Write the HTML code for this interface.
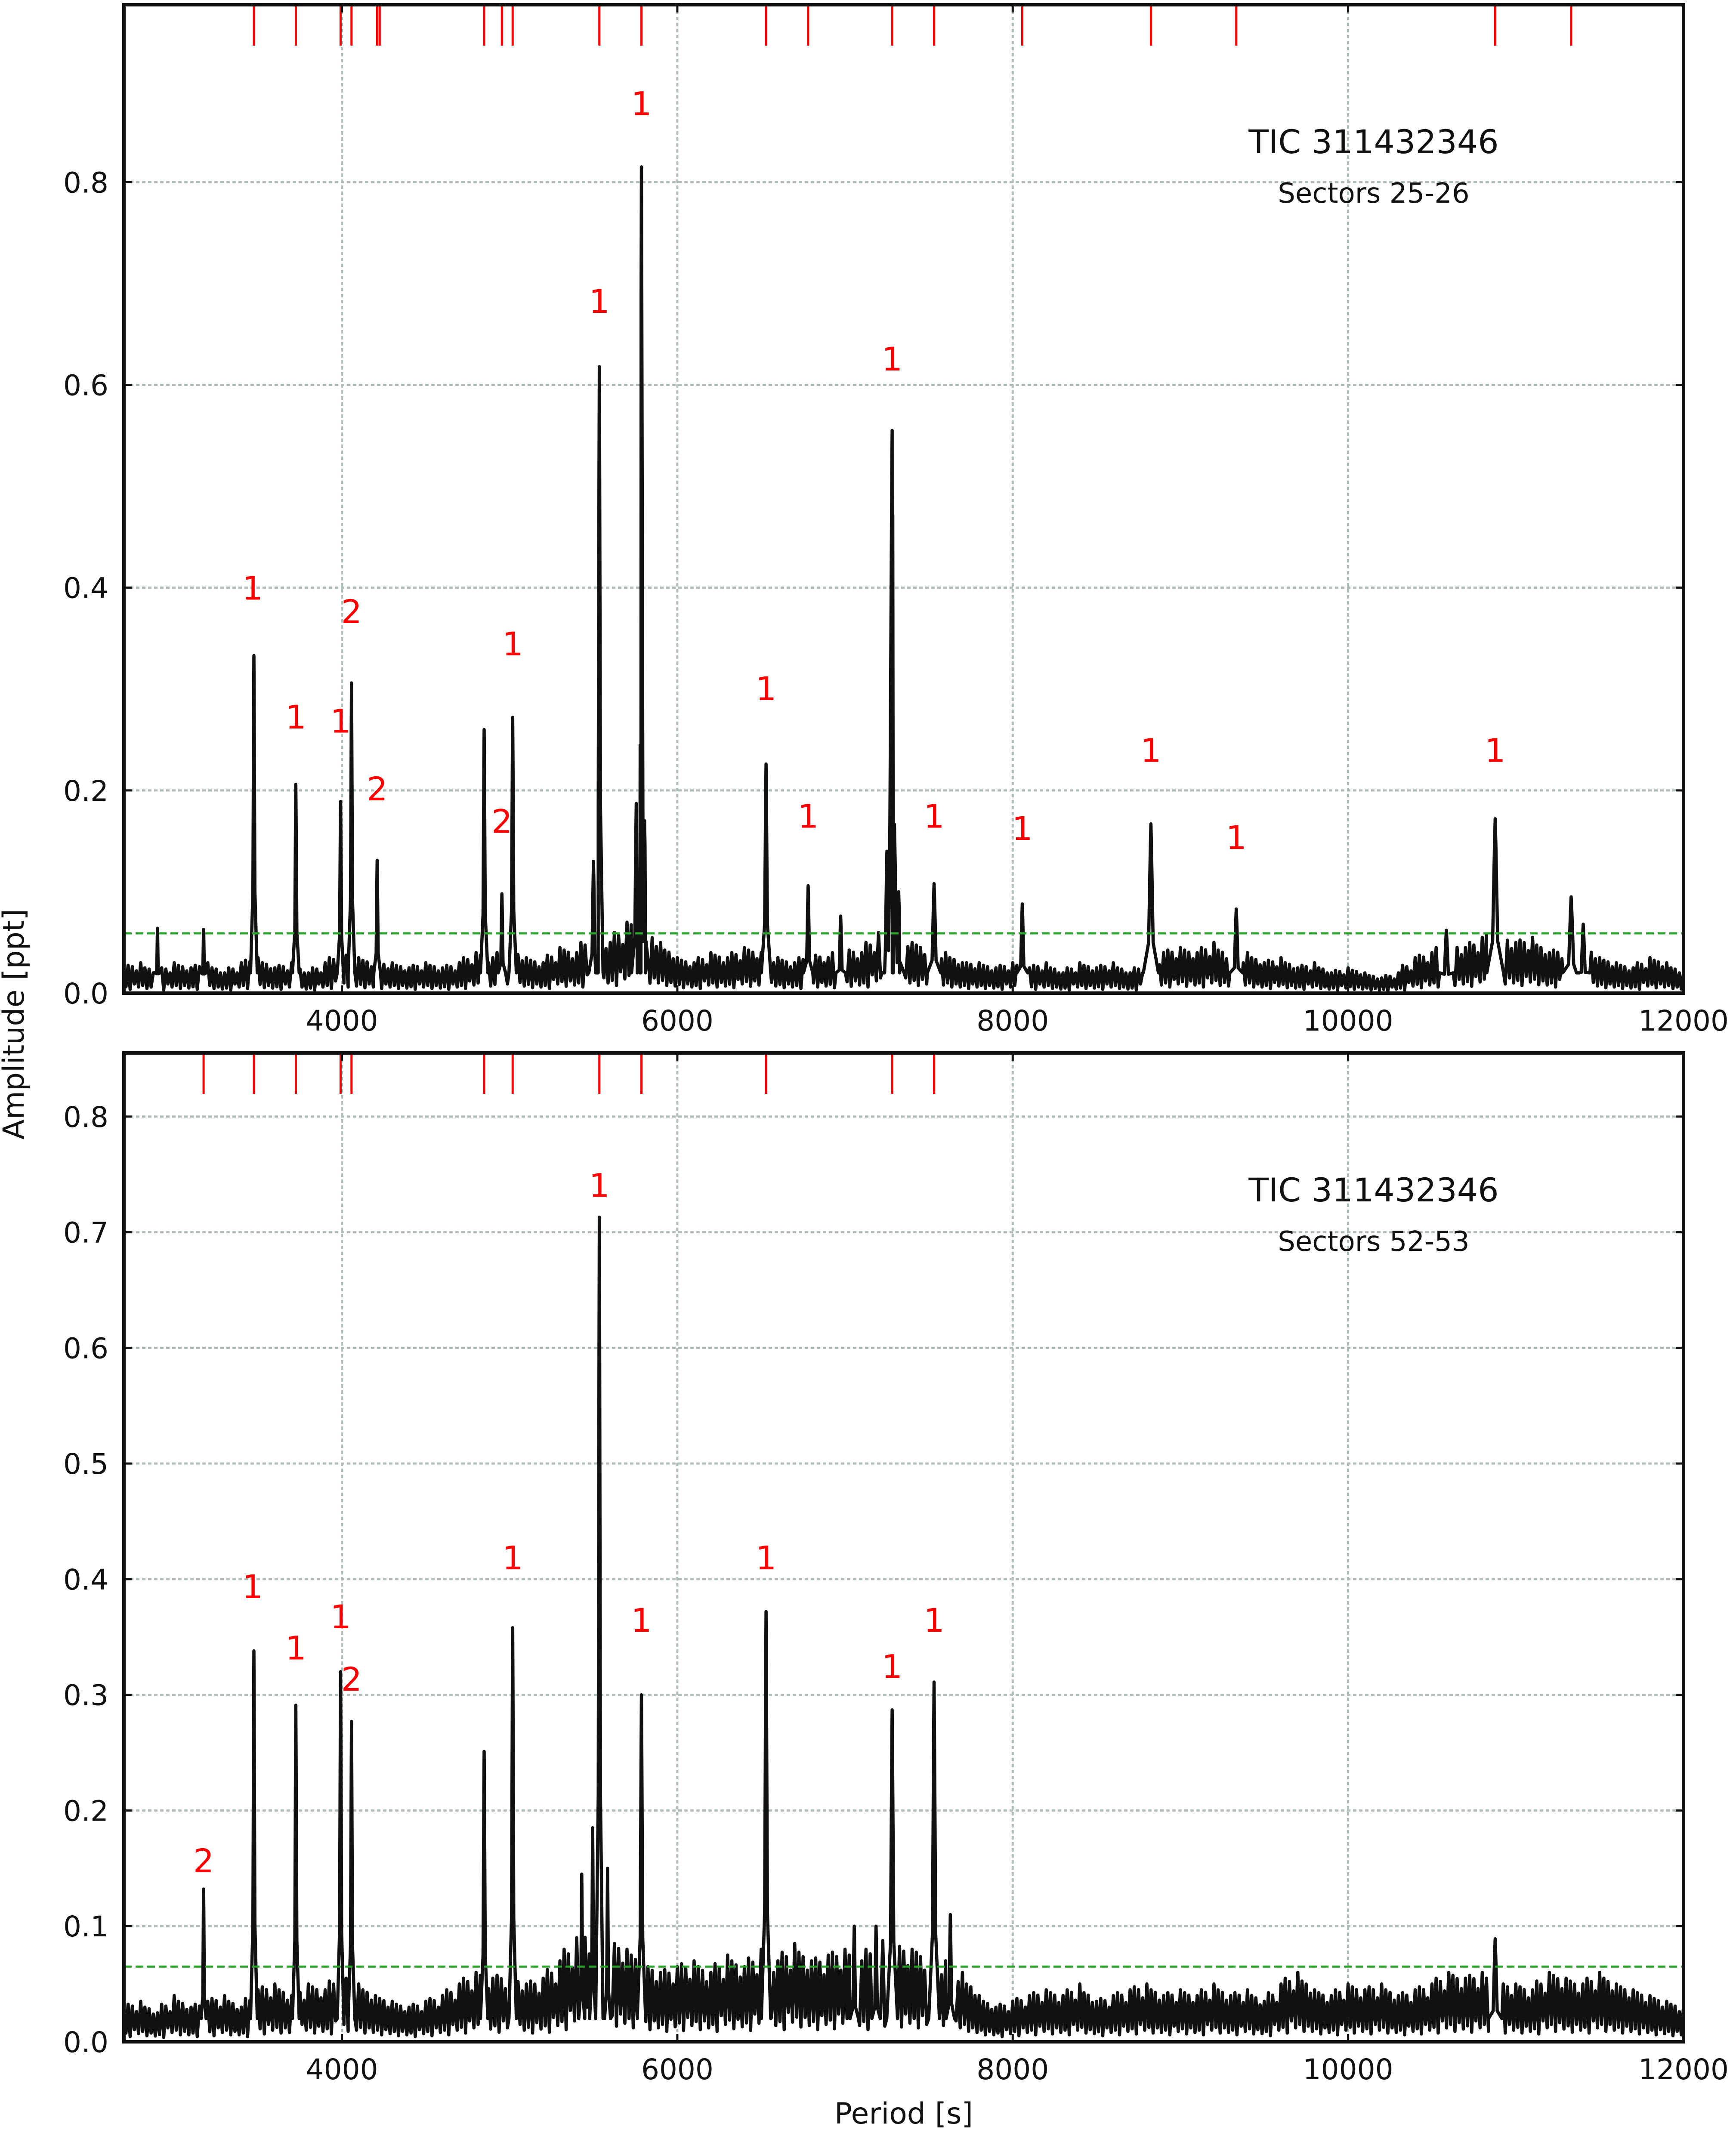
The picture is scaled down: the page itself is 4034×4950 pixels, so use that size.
<!DOCTYPE html>
<html><head><meta charset="utf-8">
<style>
html,body{margin:0;padding:0;background:#fff;}
svg{display:block;font-family:"DejaVu Sans","Liberation Sans",sans-serif;}
</style></head>
<body>
<svg id="chart" xmlns="http://www.w3.org/2000/svg" width="4034" height="4950" viewBox="0 0 4034 4950">
<rect width="4034" height="4950" fill="#fff"/>
<g id="root"></g>
</svg>
<script>
// ---- data ----
const xTicks = [4000, 6000, 8000, 10000, 12000];
const topYTicks = [0.0, 0.2, 0.4, 0.6, 0.8];
const botYTicks = [0.0, 0.1, 0.2, 0.3, 0.4, 0.5, 0.6, 0.7, 0.8];
const noiseStart = 2700;
const noiseStep = 100;
const topNoise = [0.025,0.03,0.02,0.03,0.025,0.03,0.02,0.03,0.035,0.025,0.03,0.02,0.03,
0.04,0.035,0.03,0.03,0.025,0.03,0.025,0.03,0.04,0.035,
0.045,0.035,0.03,0.045,0.04,0.06,0.05,0.07,0.065,0.05,
0.035,0.03,0.04,0.035,0.045,0.04,0.035,0.03,0.04,0.035,
0.045,0.04,0.06,0.065,0.05,0.045,0.04,0.03,0.03,0.025,
0.03,0.025,0.03,0.02,0.03,0.025,0.03,0.02,0.03,0.04,
0.045,0.04,0.05,0.035,0.04,0.03,0.035,0.025,0.03,0.02,
0.025,0.02,0.015,0.02,0.035,0.04,0.05,0.045,0.055,0.06,
0.05,0.055,0.04,0.045,0.05,0.035,0.03,0.025,0.035,0.03,0.02];
const botNoise = [0.03,0.035,0.025,0.04,0.03,0.035,0.04,0.03,0.045,0.05,0.04,0.05,0.045,
0.06,0.05,0.04,0.035,0.03,0.035,0.04,0.05,0.06,0.055,
0.06,0.05,0.055,0.07,0.09,0.1,0.09,0.08,0.07,0.06,
0.065,0.07,0.06,0.075,0.065,0.08,0.07,0.085,0.07,0.075,
0.08,0.07,0.09,0.085,0.08,0.075,0.07,0.06,0.04,0.03,
0.035,0.04,0.045,0.04,0.05,0.035,0.04,0.045,0.05,0.04,
0.045,0.04,0.05,0.04,0.045,0.035,0.05,0.06,0.045,0.04,
0.05,0.045,0.05,0.04,0.045,0.05,0.06,0.055,0.06,0.05,
0.05,0.045,0.06,0.055,0.05,0.06,0.05,0.045,0.04,0.035,0.03];
const topPeakPeriods = [2900,3175,3475,3725,3992,4057,4210,4848,4954,5018,5500,5535,5755,5786,5805,6529,6780,6974,7250,7281,7320,7531,8057,8824,9333,10586,10877,11330,11402];
const topPeakAmps =    [0.064,0.063,0.333,0.206,0.189,0.306,0.131,0.260,0.098,0.272,0.13,0.618,0.187,0.815,0.17,0.226,0.106,0.076,0.14,0.555,0.1,0.108,0.088,0.167,0.083,0.062,0.172,0.095,0.068];
const topPeakWidths =  [15,15,20,20,20,20,20,22,22,22,28,22,28,25,28,28,28,28,32,45,32,40,32,45,38,40,50,50,40];
const botPeakPeriods = [3175,3475,3725,3992,4057,4848,5018,5430,5495,5535,5584,5786,6529,7055,7185,7281,7531,7628,10877];
const botPeakAmps =    [0.132,0.338,0.291,0.320,0.277,0.251,0.358,0.145,0.185,0.713,0.15,0.300,0.372,0.10,0.10,0.287,0.311,0.11,0.089];
const botPeakWidths =  [15,20,20,20,20,22,22,18,18,22,18,25,28,25,25,32,32,25,40];
const topMarks = [3475,3725,3992,4057,4210,4225,4848,4954,5018,5535,5786,6529,6780,7281,7531,8057,8824,9333,10877,11330];
const botMarks = [3175,3475,3725,3992,4057,4848,5018,5535,5786,6529,7281,7531];
const topLabelText = ["1","1","1","2","2","2","1","1","1","1","1","1","1","1","1","1","1"];
const topLabelX = [3467,3725,3992,4057,4210,4954,5018,5535,5786,6529,6780,7281,7531,8057,8824,9333,10877];
const topLabelY = [0.40,0.273,0.269,0.377,0.202,0.17,0.345,0.683,0.878,0.301,0.175,0.626,0.175,0.163,0.24,0.154,0.24];
const botLabelText = ["2","1","1","1","2","1","1","1","1","1","1"];
const botLabelX = [3175,3467,3725,3992,4057,5018,5535,5786,6529,7281,7531];
const botLabelY = [0.157,0.394,0.341,0.368,0.314,0.419,0.741,0.365,0.419,0.325,0.365];
const topThreshold = 0.059;
const botThreshold = 0.065;

// ---- layout ----
const NS = "http://www.w3.org/2000/svg";
const root = document.getElementById("root");
const X0 = 288, X1 = 3912, XMIN = 2700, XMAX = 12000;
function xs(v){ return X0 + (v - XMIN) * (X1 - X0) / (XMAX - XMIN); }
function mk(tag, attrs, parent){
  const e = document.createElementNS(NS, tag);
  for (const k in attrs) e.setAttribute(k, attrs[k]);
  (parent || root).appendChild(e);
  return e;
}

function panel(cfg){
  const {top, bottom, ymax, yTicks, noise, pPer, pAmp, pW, marks, lt, lx, ly, thr, sector, name} = cfg;
  const ys = v => bottom - v * (bottom - top) / ymax;
  const g = mk("g", {});
  
  
  xTicks.forEach(t => {
    if (t > XMIN && t < XMAX) {
      const l = mk("line", {x1: xs(t), x2: xs(t), y1: top, y2: bottom, stroke: "#b0bcb8", "stroke-width": 5, "stroke-dasharray": "8,6"}, g);
      
      
    }
  });
  yTicks.forEach(t => {
    if (t > 0) {
      const l = mk("line", {x1: X0, x2: X1, y1: ys(t), y2: ys(t), stroke: "#b0bcb8", "stroke-width": 5, "stroke-dasharray": "8,6"}, g);
      
      
    }
  });
  const pts = [];
  for (let i = 0; i < noise.length; i++) {
    const p = noiseStart + i * noiseStep;
    const v = noise[i];
    pts.push([p, v]);
    if (i < noise.length - 1) {
      const n = noise[i+1];
      pts.push([p + 12, v * 0.25]);
      pts.push([p + 25, (v + n) * 0.5]);
      pts.push([p + 37, v * 0.15]);
      pts.push([p + 50, (v + n) * 0.5 * 0.95]);
      pts.push([p + 62, n * 0.3]);
      pts.push([p + 75, (v + n) * 0.5 * 0.8]);
      pts.push([p + 87, n * 0.2]);
    }
  }
  let filtered = pts.filter(q => !pPer.some((p, i) => Math.abs(q[0] - p) < pW[i]));
  pPer.forEach((p, i) => {
    const a = pAmp[i], w = pW[i];
    filtered.push([p - w, 0.02], [p - w * 0.3, a * 0.3], [p - w * 0.08, a * 0.85], [p, a], [p + w * 0.08, a * 0.85], [p + w * 0.3, a * 0.3], [p + w, 0.02]);
  });
  filtered.sort((a, b) => a[0] - b[0]);
  filtered = filtered.filter(q => q[0] >= XMIN && q[0] <= XMAX);
  const d = filtered.map((q, i) => (i ? "L" : "M") + xs(q[0]).toFixed(1) + "," + ys(Math.min(q[1], ymax)).toFixed(1)).join("");
  const line = mk("path", {d: d, fill: "none", stroke: "#111", "stroke-width": 7.5, "stroke-linejoin": "round"}, g);
  
  
  const th = mk("line", {x1: X0, x2: X1, y1: ys(thr), y2: ys(thr), stroke: "#2ca02c", "stroke-width": 5, "stroke-dasharray": "18,9"}, g);
  
  
  marks.forEach(m => {
    const l = mk("line", {x1: xs(m), x2: xs(m), y1: top, y2: top + 95, stroke: "#ff0000", "stroke-width": 5}, g);
    
    
  });
  lt.forEach((t, i) => {
    const e = mk("text", {x: xs(lx[i]), y: ys(ly[i]) + 28, "text-anchor": "middle", "font-size": 76, fill: "#ff0000"}, g);
    e.textContent = t;
    
    
  });
  const fr = mk("rect", {x: X0, y: top, width: X1 - X0, height: bottom - top, fill: "none", stroke: "#111", "stroke-width": 8}, g);
  
  
  xTicks.forEach(t => {
    const tk = mk("line", {x1: xs(t), x2: xs(t), y1: bottom, y2: bottom - 18, stroke: "#111", "stroke-width": 5}, g);
    
    
    const tk2 = mk("line", {x1: xs(t), x2: xs(t), y1: top, y2: top + 18, stroke: "#111", "stroke-width": 5}, g);
    
    
    const lb = mk("text", {x: xs(t), y: bottom + 87, "text-anchor": "middle", "font-size": 66, fill: "#111"}, g);
    lb.textContent = String(t);
    
    
  });
  yTicks.forEach(t => {
    const tk = mk("line", {x1: X0, x2: X0 + 18, y1: ys(t), y2: ys(t), stroke: "#111", "stroke-width": 5}, g);
    
    
    const tk2 = mk("line", {x1: X1, x2: X1 - 18, y1: ys(t), y2: ys(t), stroke: "#111", "stroke-width": 5}, g);
    
    
    const lb = mk("text", {x: 252, y: ys(t) + 24, "text-anchor": "end", "font-size": 66, fill: "#111"}, g);
    lb.textContent = t.toFixed(1);
    
    
  });
  const t1 = mk("text", {x: 3192, y: top + 345, "text-anchor": "middle", "font-size": 76, fill: "#111"}, g);
  t1.textContent = "TIC 311432346";
  
  
  const t2 = mk("text", {x: 3192, y: top + 460, "text-anchor": "middle", "font-size": 64, fill: "#111"}, g);
  t2.textContent = sector;
  
  
}

panel({name: "top-panel", top: 11, bottom: 2308, ymax: 0.975, yTicks: topYTicks, noise: topNoise,
  pPer: topPeakPeriods, pAmp: topPeakAmps, pW: topPeakWidths, marks: topMarks,
  lt: topLabelText, lx: topLabelX, ly: topLabelY, thr: topThreshold, sector: "Sectors 25-26"});
panel({name: "bottom-panel", top: 2447, bottom: 4745, ymax: 0.855, yTicks: botYTicks, noise: botNoise,
  pPer: botPeakPeriods, pAmp: botPeakAmps, pW: botPeakWidths, marks: botMarks,
  lt: botLabelText, lx: botLabelX, ly: botLabelY, thr: botThreshold, sector: "Sectors 52-53"});

const xt = mk("text", {x: 2100, y: 4935, "text-anchor": "middle", "font-size": 68, fill: "#111"});
xt.textContent = "Period [s]";


const yt = mk("text", {x: 0, y: 0, "text-anchor": "middle", "font-size": 68, fill: "#111", transform: "translate(55,2380) rotate(-90)"});
yt.textContent = "Amplitude [ppt]";


</script>
</body></html>
